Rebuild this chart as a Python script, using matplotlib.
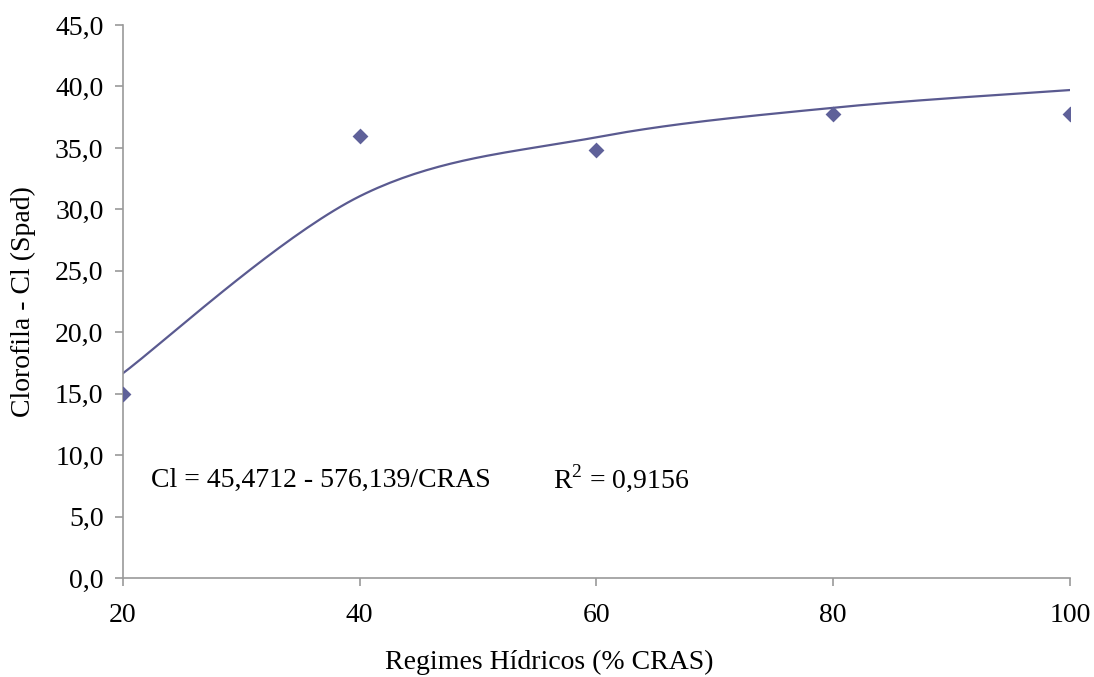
import numpy as np
import matplotlib.pyplot as plt

plt.rcParams['font.family'] = ['Liberation Serif', 'DejaVu Serif']
plt.rcParams['mathtext.fontset'] = 'custom'
plt.rcParams['mathtext.rm'] = 'Liberation Serif'

# regimes hidricos (% CRAS) e clorofila medida
cras = [20, 40, 60, 80, 100]
clorofila = [15.0, 36.0, 34.8, 37.8, 37.8]

# ajuste: Cl = a - b/CRAS
coef_a = 45.4712
coef_b = 576.139
r2 = 0.9156
ajuste = [coef_a - coef_b / c for c in cras]

cor_marca = '#5f6199'
cor_linha = '#5a5a90'
cor_eixo = '#9a9a9a'


def suavizar(xs, ys, n=40):
    # curva bezier do tipo catmull-rom (linha suavizada do excel)
    xs = np.asarray(xs, float)
    ys = np.asarray(ys, float)
    px = np.concatenate([[xs[0]], xs, [xs[-1]]])
    py = np.concatenate([[ys[0]], ys, [ys[-1]]])
    ox, oy = [], []
    t = np.linspace(0, 1, n)
    for i in range(1, len(px) - 2):
        p0 = np.array([px[i], py[i]])
        p3 = np.array([px[i + 1], py[i + 1]])
        c1 = p0 + (np.array([px[i + 1], py[i + 1]]) - np.array([px[i - 1], py[i - 1]])) / 6
        c2 = p3 - (np.array([px[i + 2], py[i + 2]]) - np.array([px[i], py[i]])) / 6
        for tt in t:
            b = ((1 - tt) ** 3) * p0 + 3 * ((1 - tt) ** 2) * tt * c1 + 3 * (1 - tt) * tt ** 2 * c2 + tt ** 3 * p3
            ox.append(b[0])
            oy.append(b[1])
    return np.array(ox), np.array(oy)


fig = plt.figure(figsize=(10.94, 6.77), dpi=100)
ax = fig.add_axes([0.1124, 0.1462, 0.8656, 0.8168])

# suaviza em coordenadas de tela do grafico
sx = 947 / 80.0
sy = 553 / 45.0
cx, cy = suavizar([c * sx for c in cras], [v * sy for v in ajuste])
ax.plot(cx / sx, cy / sy, color=cor_linha, lw=1.6, zorder=2)
ax.scatter(cras, clorofila, marker='D', s=65, color=cor_marca, zorder=3, linewidths=0)

ax.set_xlim(20, 100)
ax.set_ylim(0, 45)
ax.set_xticks(cras)
ax.set_yticks(np.arange(0, 46, 5))
ax.set_yticklabels([f'{v:.1f}'.replace('.', ',') for v in np.arange(0, 46, 5)])

for s in ['top', 'right']:
    ax.spines[s].set_visible(False)
for s in ['left', 'bottom']:
    ax.spines[s].set_color(cor_eixo)
    ax.spines[s].set_linewidth(1.2)
ax.tick_params(colors=cor_eixo, labelcolor='black', labelsize=20, length=6, width=1.2)
ax.tick_params(axis='x', pad=12)
ax.tick_params(axis='y', pad=8)

# titulos dos eixos centrados na area do grafico
fig.text(0.502, 0.021, 'Regimes Hídricos (% CRAS)', fontsize=20, ha='center', va='center')
fig.text(0.021, 0.555, 'Clorofila - Cl (Spad)', fontsize=20, ha='center', va='center',
         rotation=90)

ax.text(22.4, 7.4, 'Cl = 45,4712 - 576,139/CRAS', fontsize=20, va='baseline', ha='left')
ax.text(56.3, 7.4, 'R$^{2}$ = ' + f'{r2:.4f}'.replace('.', ','), fontsize=20,
        va='baseline', ha='left')

fig.savefig('out.png', dpi=100)
